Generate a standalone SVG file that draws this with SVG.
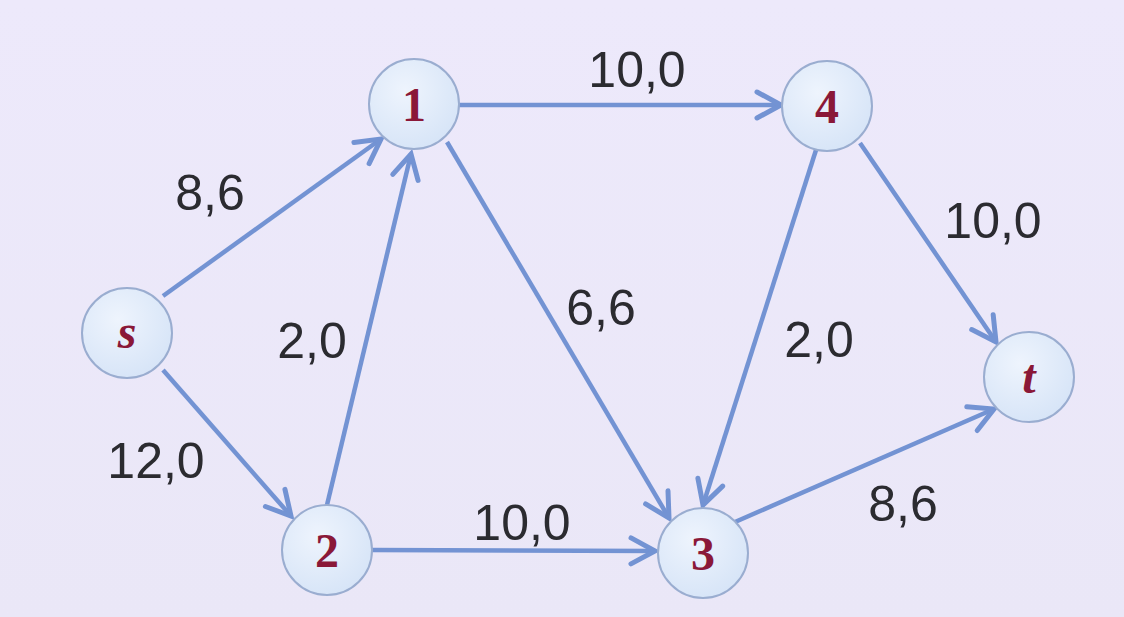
<svg xmlns="http://www.w3.org/2000/svg" width="1124" height="617" viewBox="0 0 1124 617">
<style>
.edge{stroke:#7393d3;stroke-width:4.5;fill:none;marker-end:url(#arr)}
.node circle{fill:url(#ng);stroke:#9aadd0;stroke-width:2}
.nl{font-family:"Liberation Serif","Times New Roman",serif;font-weight:bold;font-size:48px;fill:#8a1838;text-anchor:middle}
.it{font-style:italic}
.lbl{font-family:"Liberation Sans",Arial,sans-serif;font-size:50px;fill:#2b2b30;text-anchor:middle}
</style>
<defs>
<linearGradient id="bg" x1="0" y1="0" x2="0" y2="1">
<stop offset="0" stop-color="#ede9fb"/>
<stop offset="1" stop-color="#eae7f7"/>
</linearGradient>
<radialGradient id="ng" cx="0.4" cy="0.35" r="0.7">
<stop offset="0" stop-color="#eef4fd"/>
<stop offset="1" stop-color="#d6e4f7"/>
</radialGradient>
<marker id="arr" markerUnits="userSpaceOnUse" markerWidth="40" markerHeight="40" viewBox="-30 -20 40 40" refX="0" refY="0" orient="auto">
<path d="M-24,-13 L0,0 L-24,13" fill="none" stroke="#7393d3" stroke-width="5" stroke-linecap="round" stroke-linejoin="miter"/>
</marker>
</defs>
<rect width="1124" height="617" fill="url(#bg)"/>
<g id="connectors">
<line class="edge" x1="163" y1="296" x2="381" y2="139"/>
<line class="edge" x1="163" y1="370" x2="291" y2="516"/>
<line class="edge" x1="327" y1="505" x2="411" y2="154"/>
<line class="edge" x1="458" y1="105" x2="781" y2="105"/>
<line class="edge" x1="447" y1="142" x2="669" y2="518"/>
<line class="edge" x1="816" y1="150" x2="703" y2="505"/>
<line class="edge" x1="860" y1="143" x2="996" y2="342"/>
<line class="edge" x1="372" y1="550" x2="655" y2="551"/>
<line class="edge" x1="735" y1="522" x2="994" y2="409"/>
</g>
<g id="node-s" class="node"><circle cx="127" cy="333" r="45"/><text class="nl it" x="127" y="348">s</text></g>
<g id="node-1" class="node"><circle cx="414" cy="104" r="45"/><text class="nl" x="414" y="121">1</text></g>
<g id="node-4" class="node"><circle cx="827" cy="106" r="45"/><text class="nl" x="827" y="123">4</text></g>
<g id="node-2" class="node"><circle cx="327" cy="550" r="45"/><text class="nl" x="327" y="567">2</text></g>
<g id="node-3" class="node"><circle cx="703" cy="553" r="45"/><text class="nl" x="703" y="570">3</text></g>
<g id="node-t" class="node"><circle cx="1029" cy="377" r="45"/><text class="nl it" x="1029" y="393">t</text></g>
<g id="labels">
<text class="lbl" x="637" y="87">10,0</text>
<text class="lbl" x="210" y="210">8,6</text>
<text class="lbl" x="312" y="358">2,0</text>
<text class="lbl" x="156" y="478">12,0</text>
<text class="lbl" x="522" y="540">10,0</text>
<text class="lbl" x="601" y="325">6,6</text>
<text class="lbl" x="819" y="357">2,0</text>
<text class="lbl" x="993" y="238">10,0</text>
<text class="lbl" x="903" y="521">8,6</text>
</g>
</svg>
